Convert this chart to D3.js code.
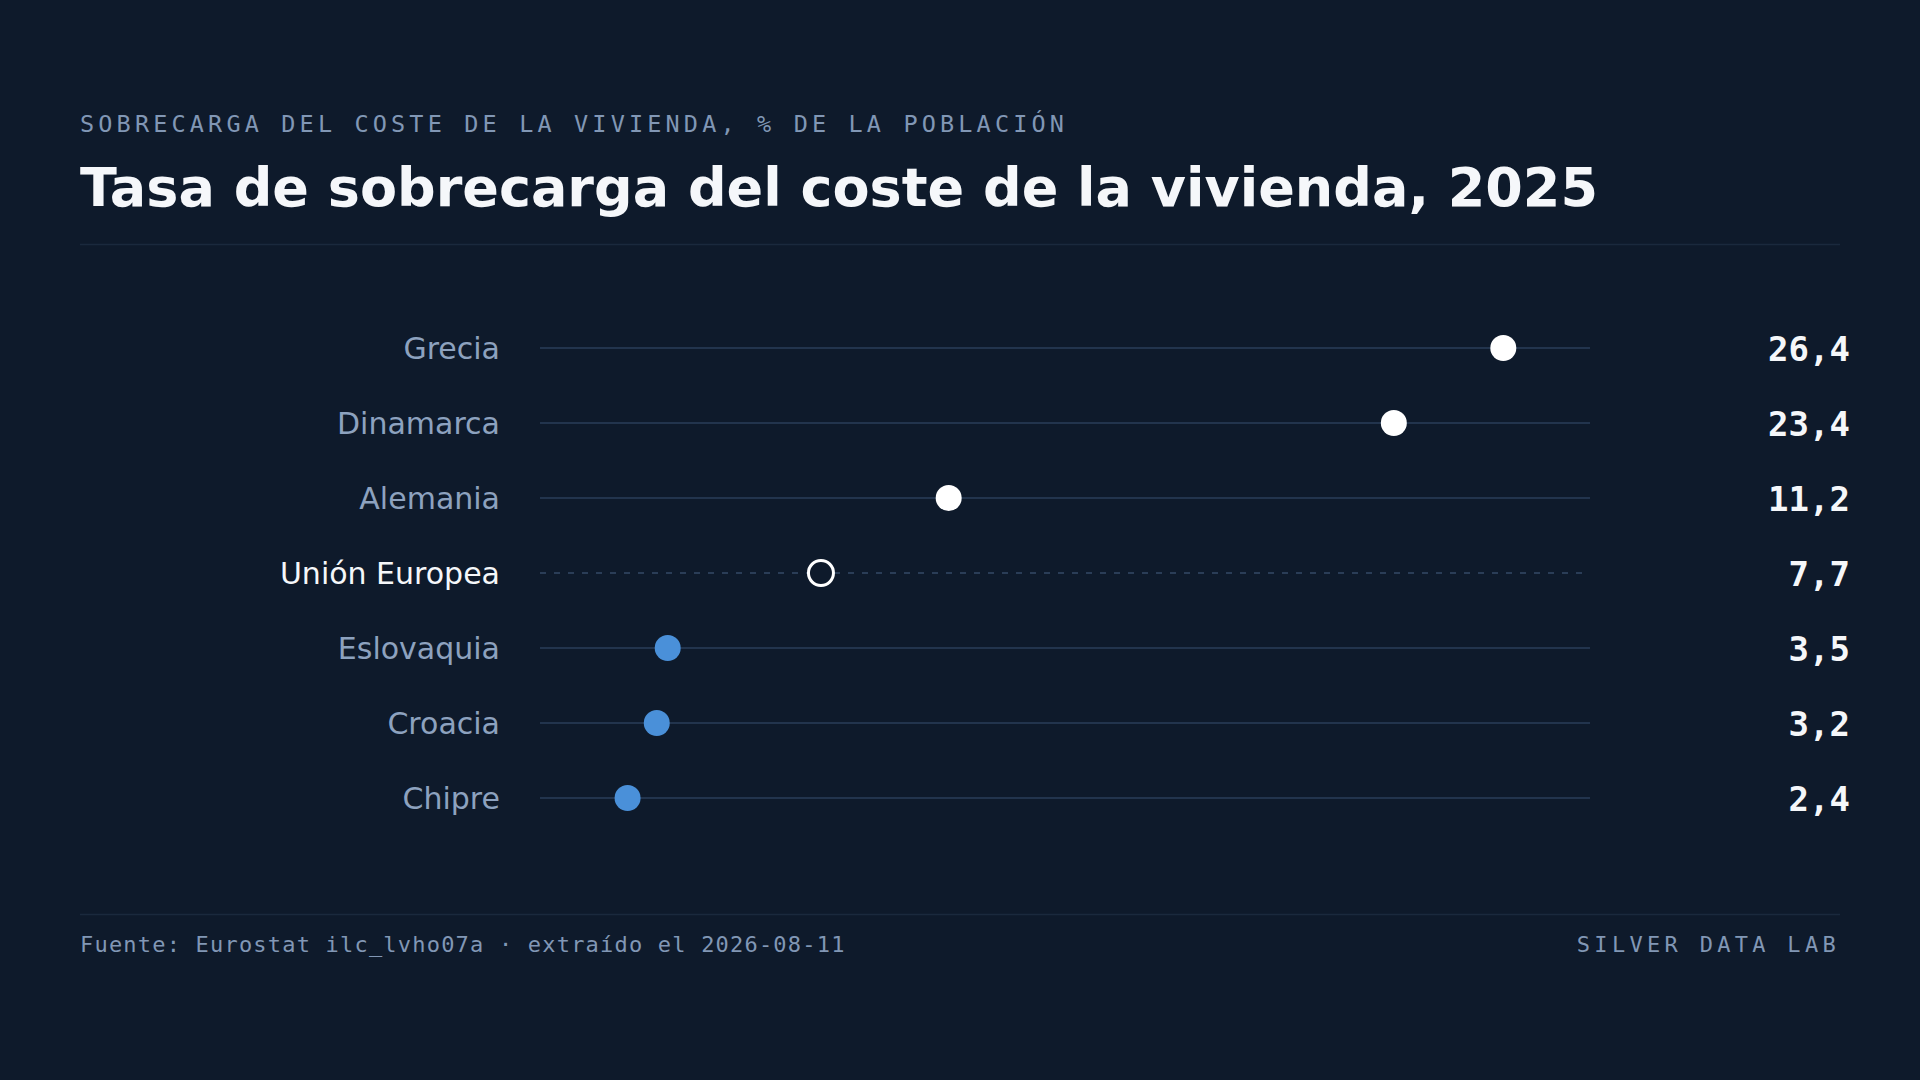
<!DOCTYPE html>
<html>
<head>
<meta charset="utf-8">
<script src="https://cdn.jsdelivr.net/npm/d3@7"></script>
<style>
  body { margin: 0; background: #0e1a2b; }
  svg { display: block; }
</style>
</head>
<body>
<script>
const countries = ['Grecia', 'Dinamarca', 'Alemania', 'Unión Europea', 'Eslovaquia', 'Croacia', 'Chipre']
const values = [26.4, 23.4, 11.2, 7.7, 3.5, 3.2, 2.4]
const valueLabels = ['26,4', '23,4', '11,2', '7,7', '3,5', '3,2', '2,4']
const referenceName = 'Unión Europea'

const width = 1920
const height = 1080
const bg = '#0e1a2b'

const rows = countries.map((c, i) => ({name: c, value: values[i], label: valueLabels[i]}))
const euValue = values[countries.indexOf(referenceName)]

const svg = d3.select('body').append('svg')
  .attr('width', width)
  .attr('height', height)

svg.append('rect')
  .attr('width', width)
  .attr('height', height)
  .attr('fill', bg)

// header
svg.append('text')
  .attr('x', 80)
  .attr('y', 132)
  .attr('font-family', 'DejaVu Sans Mono')
  .attr('font-size', 23.5)
  .attr('letter-spacing', 4.15)
  .attr('fill', '#8197b5')
  .text('SOBRECARGA DEL COSTE DE LA VIVIENDA, % DE LA POBLACIÓN')

svg.append('text')
  .attr('x', 80)
  .attr('y', 206)
  .attr('font-family', 'DejaVu Sans')
  .attr('font-weight', 'bold')
  .attr('font-size', 54)
  .attr('fill', '#f5f7fa')
  .text('Tasa de sobrecarga del coste de la vivienda, 2025')

svg.append('line')
  .attr('x1', 80).attr('x2', 1840)
  .attr('y1', 244.5).attr('y2', 244.5)
  .attr('stroke', '#1a293d')
  .attr('stroke-width', 1.5)

// scales
const x = d3.scaleLinear()
  .domain([0, d3.max(values) * 1.09])
  .range([540, 1590])

const y = d3.scalePoint()
  .domain(countries)
  .range([348, 798])

const g = svg.selectAll('g.row')
  .data(rows)
  .enter().append('g')
  .classed('row', true)

g.append('line')
  .attr('x1', x.range()[0])
  .attr('x2', d => d.name === referenceName ? x.range()[1] - 5 : x.range()[1])
  .attr('y1', d => y(d.name))
  .attr('y2', d => y(d.name))
  .attr('stroke', d => d.name === referenceName ? '#2a3d57' : '#22344d')
  .attr('stroke-width', 2)
  .attr('stroke-dasharray', d => d.name === referenceName ? '6,8' : null)

g.append('text')
  .attr('x', 500)
  .attr('y', d => y(d.name))
  .attr('dy', '0.35em')
  .attr('text-anchor', 'end')
  .attr('font-family', 'DejaVu Sans')
  .attr('font-size', 30)
  .attr('fill', d => d.name === referenceName ? '#f5f7fa' : '#8da2bf')
  .text(d => d.name)

g.append('circle')
  .attr('cx', d => x(d.value))
  .attr('cy', d => y(d.name))
  .attr('r', d => d.name === referenceName ? 12.5 : 13)
  .attr('fill', d => d.name === referenceName ? bg : (d.value > euValue ? '#ffffff' : '#4a90d9'))
  .attr('stroke', d => d.name === referenceName ? '#ffffff' : 'none')
  .attr('stroke-width', 3)

g.append('text')
  .attr('x', 1850)
  .attr('y', d => y(d.name))
  .attr('dy', '0.39em')
  .attr('text-anchor', 'end')
  .attr('font-family', 'DejaVu Sans Mono')
  .attr('font-weight', 'bold')
  .attr('font-size', 34)
  .attr('fill', '#f5f7fa')
  .text(d => d.label)

// footer
svg.append('line')
  .attr('x1', 80).attr('x2', 1840)
  .attr('y1', 914.5).attr('y2', 914.5)
  .attr('stroke', '#1a293d')
  .attr('stroke-width', 1.5)

svg.append('text')
  .attr('x', 80)
  .attr('y', 952)
  .attr('font-family', 'DejaVu Sans Mono')
  .attr('font-size', 22)
  .attr('letter-spacing', 1.2)
  .attr('fill', '#8197b5')
  .text('Fuente: Eurostat ilc_lvho07a · extraído el 2026-08-11')

svg.append('text')
  .attr('x', 1840)
  .attr('y', 952)
  .attr('text-anchor', 'end')
  .attr('font-family', 'DejaVu Sans Mono')
  .attr('font-size', 22)
  .attr('letter-spacing', 4.3)
  .attr('fill', '#8197b5')
  .text('SILVER DATA LAB')
</script>
</body>
</html>
